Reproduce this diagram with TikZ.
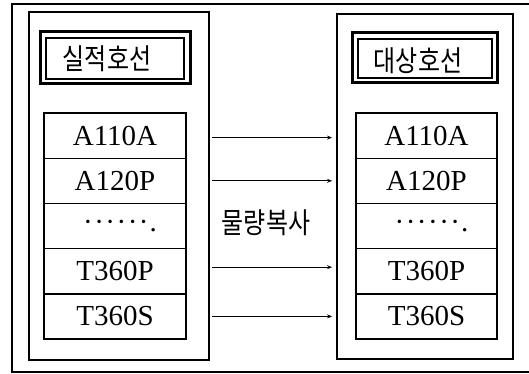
\documentclass[tikz,border=0pt]{standalone}
\usepackage{fontspec}
\setmainfont{Liberation Serif}
\newfontfamily\kr{Noto Sans CJK KR}
\usetikzlibrary{arrows.meta}
\newcommand{\rowdots}{\hspace{10pt}·\hspace{1.5pt}·\hspace{1.5pt}·\hspace{1.5pt}·\hspace{1.5pt}·\hspace{1.5pt}·\hspace{1pt}.}
\begin{document}
\begin{tikzpicture}[x=1pt,y=-1pt,
  frame/.style={draw=black, line width=1.4pt, inner sep=0pt, outer sep=0pt, rectangle},
  titleouter/.style={draw=black, line width=3pt, inner sep=0pt, outer sep=0pt, rectangle},
  titleinner/.style={draw=black, line width=1.4pt, inner sep=0pt, outer sep=0pt, rectangle},
  item/.style={draw=black, line width=1.4pt, inner sep=0pt, outer sep=0pt, rectangle,
    minimum width=142pt, minimum height=45.2pt, font=\fontsize{29}{29}\selectfont},
  krtext/.style={inner sep=0pt, font=\kr\fontsize{24}{24}\selectfont, yscale=1.2, transform shape},
  arr/.style={draw=black, line width=1.2pt, -{Stealth[length=5pt,width=4pt]}, shorten <=3pt, shorten >=5pt}]
\useasboundingbox (0,0) rectangle (529,374);
% outer frame
\node[frame, minimum width=518pt, minimum height=368pt] (outer) at (271,188) {};
% panels
\node[frame, minimum width=180pt, minimum height=348pt] (lp) at (119,186) {};
\node[frame, minimum width=176pt, minimum height=345pt] (rp) at (425,186.5) {};
% title boxes
\node[titleouter, minimum width=150pt, minimum height=52pt] (lto) at (115,58) {};
\node[titleinner, minimum width=138pt, minimum height=41pt] (lti) at (115,58.5) {};
\node[krtext] (ltt) at (107,59) {실적호선};
\node[titleouter, minimum width=145pt, minimum height=50pt] (rto) at (424.5,58) {};
\node[titleinner, minimum width=134pt, minimum height=39pt] (rti) at (425,58.5) {};
\node[krtext] (rtt) at (418,61) {대상호선};
% items left
\node[item] (l1) at (115,135.6) {A110A};
\node[item] (l2) at (115,180.8) {A120P};
\node[item] (l3) at (115,226.0) {\rowdots};
\node[item] (l4) at (115,271.2) {T360P};
\node[item] (l5) at (115,316.4) {T360S};
% items right
\node[item, minimum width=141pt] (r1) at (426.5,135.6) {A110A};
\node[item, minimum width=141pt] (r2) at (426.5,180.8) {A120P};
\node[item, minimum width=141pt] (r3) at (426.5,226.0) {\rowdots};
\node[item, minimum width=141pt] (r4) at (426.5,271.2) {T360P};
\node[item, minimum width=141pt] (r5) at (426.5,316.4) {T360S};
% label
\node[krtext] (lbl) at (266,223) {물량복사};
% arrows
\draw[arr] ([yshift=-2pt]lp.east |- l1) -- ([yshift=-2pt]rp.west |- r1);
\draw[arr] (lp.east |- l2) -- (rp.west |- r2);
\draw[arr] ([yshift=4pt]lp.east |- l4) -- ([yshift=4pt]rp.west |- r4);
\draw[arr] (lp.east |- l5) -- (rp.west |- r5);
\end{tikzpicture}
\end{document}
